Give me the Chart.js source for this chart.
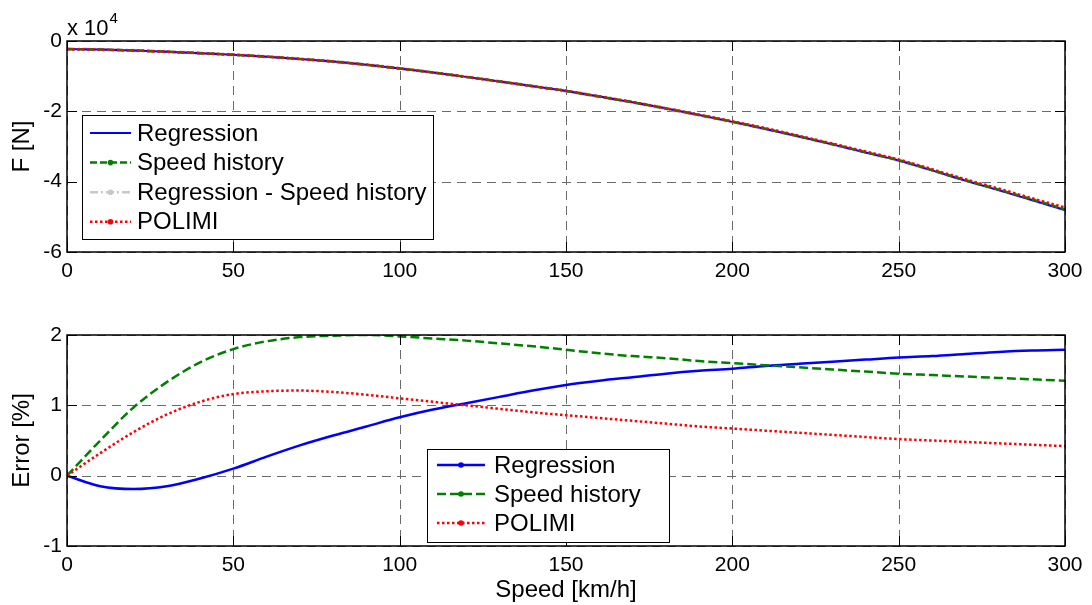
<!DOCTYPE html>
<html>
<head>
<meta charset="utf-8">
<script src="https://cdn.jsdelivr.net/npm/chart.js@4"></script>
<style>
  body { margin: 0; background: #fff; }
  #wrap { position: relative; width: 1092px; height: 605px; background: #fff; }
  #forceChart { position: absolute; left: 0; top: 0; }
  #errorChart { position: absolute; left: 0; top: 300px; }
</style>
</head>
<body>
<div id="wrap">
  <canvas id="forceChart" width="1092" height="300"></canvas>
  <canvas id="errorChart" width="1092" height="305"></canvas>
</div>
<script>
// speed in km/h
const speed = [0, 10, 20, 30, 40, 50, 60, 70, 80, 90, 100, 110, 120, 130, 140, 150,
  160, 170, 180, 190, 200, 210, 220, 230, 240, 250, 260, 270, 280, 290, 300];

// force in N (axis shown as x 10^4)
const forceRegression = [-2300, -2450, -2700, -3050, -3450, -3900, -4450, -5100, -5850, -6750, -7800,
  -8950, -10200, -11500, -12850, -14200, -15800, -17400, -19200, -21050, -23000,
  -25000, -27150, -29400, -31700, -34000, -36800, -39700, -42400, -45200, -48100];
const forceSpeedHistory = [-2300, -2450, -2700, -3050, -3450, -3900, -4450, -5100, -5850, -6750, -7800,
  -8950, -10200, -11500, -12850, -14200, -15800, -17400, -19200, -21050, -22950,
  -24950, -27100, -29300, -31600, -33900, -36700, -39550, -42250, -45000, -47900];
const forceRegSpeedHistory = [-2300, -2450, -2700, -3050, -3450, -3900, -4450, -5100, -5850, -6750, -7800,
  -8950, -10200, -11500, -12850, -14200, -15800, -17400, -19200, -21050, -22980,
  -24980, -27120, -29350, -31650, -33950, -36750, -39600, -42300, -45100, -48000];
const forcePolimi = [-2300, -2450, -2700, -3050, -3450, -3900, -4450, -5100, -5850, -6750, -7800,
  -8950, -10200, -11500, -12850, -14150, -15750, -17350, -19100, -20950, -22850,
  -24800, -26950, -29150, -31400, -33700, -36450, -39300, -41950, -44700, -47350];

// error in %
const errRegression = [0, -0.15, -0.19, -0.15, -0.04, 0.10, 0.27, 0.43, 0.57, 0.70, 0.83,
  0.94, 1.03, 1.12, 1.21, 1.29, 1.35, 1.40, 1.45, 1.49, 1.52,
  1.56, 1.59, 1.62, 1.65, 1.68, 1.70, 1.73, 1.76, 1.78, 1.79];
const errSpeedHistory = [0, 0.50, 0.97, 1.33, 1.61, 1.80, 1.91, 1.97, 1.99, 2.00, 1.98,
  1.95, 1.92, 1.88, 1.84, 1.79, 1.74, 1.70, 1.67, 1.63, 1.60,
  1.57, 1.54, 1.51, 1.48, 1.45, 1.43, 1.41, 1.39, 1.37, 1.35];
const errPolimi = [0, 0.32, 0.62, 0.87, 1.05, 1.16, 1.20, 1.21, 1.19, 1.15, 1.10,
  1.05, 1.00, 0.95, 0.90, 0.86, 0.82, 0.78, 0.74, 0.70, 0.67,
  0.64, 0.61, 0.58, 0.55, 0.52, 0.50, 0.48, 0.46, 0.44, 0.42];

const FONT = '"Liberation Sans", Arial, Helvetica, sans-serif';
Chart.defaults.font.family = FONT;
Chart.defaults.color = '#000';

function pts(values) {
  return speed.map((v, i) => ({ x: v, y: values[i] }));
}

function line(label, values, color, width, dash, order, marker) {
  return {
    label: label,
    data: pts(values),
    borderColor: color,
    backgroundColor: color,
    borderWidth: width,
    borderDash: dash,
    pointRadius: 0,
    fill: false,
    cubicInterpolationMode: 'monotone',
    order: order,
    marker: marker
  };
}

// matlab style box, dashed grid, inward ticks and boxed legend
function matlabFrame(legend, exponent) {
  return {
    id: 'matlabFrame',
    beforeDatasetsDraw(chart) {
      const { ctx, chartArea: a, scales: { x, y } } = chart;
      ctx.save();
      ctx.strokeStyle = '#6a6a6a';
      ctx.lineWidth = 1;
      ctx.setLineDash([9, 6]);
      x.ticks.forEach(t => {
        const px = Math.round(x.getPixelForValue(t.value)) + 0.5;
        ctx.beginPath(); ctx.moveTo(px, a.top); ctx.lineTo(px, a.bottom); ctx.stroke();
      });
      y.ticks.forEach(t => {
        const py = Math.round(y.getPixelForValue(t.value)) + 0.5;
        ctx.beginPath(); ctx.moveTo(a.left, py); ctx.lineTo(a.right, py); ctx.stroke();
      });
      ctx.restore();
    },
    afterDatasetsDraw(chart) {
      const { ctx, chartArea: a, scales: { x, y } } = chart;
      ctx.save();
      ctx.strokeStyle = '#000';
      ctx.lineWidth = 1.5;
      ctx.strokeRect(a.left, a.top, a.right - a.left, a.bottom - a.top);
      ctx.lineWidth = 1;
      const tl = 10;
      x.ticks.forEach(t => {
        const px = Math.round(x.getPixelForValue(t.value)) + 0.5;
        ctx.beginPath();
        ctx.moveTo(px, a.bottom); ctx.lineTo(px, a.bottom - tl);
        ctx.moveTo(px, a.top); ctx.lineTo(px, a.top + tl);
        ctx.stroke();
      });
      y.ticks.forEach(t => {
        const py = Math.round(y.getPixelForValue(t.value)) + 0.5;
        ctx.beginPath();
        ctx.moveTo(a.left, py); ctx.lineTo(a.left + tl, py);
        ctx.moveTo(a.right, py); ctx.lineTo(a.right - tl, py);
        ctx.stroke();
      });

      // legend
      const L = legend;
      ctx.fillStyle = '#fff';
      ctx.fillRect(L.x, L.y, L.w, L.h);
      ctx.strokeStyle = '#000';
      ctx.lineWidth = 1;
      ctx.strokeRect(L.x + 0.5, L.y + 0.5, L.w, L.h);
      ctx.font = '24px ' + FONT;
      ctx.textBaseline = 'middle';
      ctx.textAlign = 'left';
      chart.data.datasets.forEach((ds, i) => {
        const cy = L.y + L.first + i * L.step;
        ctx.strokeStyle = ds.borderColor;
        ctx.lineWidth = Math.min(ds.borderWidth, 2.5);
        ctx.setLineDash(ds.borderDash || []);
        ctx.beginPath(); ctx.moveTo(L.s0, cy); ctx.lineTo(L.s1, cy); ctx.stroke();
        ctx.setLineDash([]);
        if (ds.marker) {
          ctx.fillStyle = ds.borderColor;
          ctx.beginPath(); ctx.arc((L.s0 + L.s1) / 2, cy, 2.8, 0, Math.PI * 2); ctx.fill();
        }
        ctx.fillStyle = '#000';
        ctx.fillText(ds.label, L.tx, cy + 1);
      });

      if (exponent) {
        ctx.fillStyle = '#000';
        ctx.textBaseline = 'alphabetic';
        ctx.font = '22px ' + FONT;
        ctx.fillText('x 10', a.left, 35);
        const w = ctx.measureText('x 10').width;
        ctx.font = '15px ' + FONT;
        ctx.fillText('4', a.left + w + 1, 23);
      }
      ctx.restore();
    }
  };
}

function axes(yMin, yMax, yStep, yTitle, yFmt, xTitle, xHeight) {
  return {
    x: {
      type: 'linear', min: 0, max: 300,
      grid: { display: false, drawTicks: false },
      border: { display: false },
      ticks: { stepSize: 50, padding: 7, autoSkip: false, maxRotation: 0, font: { size: 21 } },
      title: xTitle ? { display: true, text: xTitle, font: { size: 24 }, padding: { top: 0, bottom: 0 } } : { display: false },
      afterFit(s) { s.height = xHeight; }
    },
    y: {
      type: 'linear', min: yMin, max: yMax,
      grid: { display: false, drawTicks: false },
      border: { display: false },
      ticks: { stepSize: yStep, padding: 5, font: { size: 21 }, callback: yFmt },
      title: { display: true, text: yTitle, font: { size: 24 }, padding: { top: 8, bottom: 0 } },
      afterFit(s) { s.width = 67; }
    }
  };
}

new Chart(document.getElementById('forceChart'), {
  type: 'line',
  data: {
    datasets: [
      line('Regression', forceRegression, '#0000ff', 2, [], 2, false),
      line('Speed history', forceSpeedHistory, '#008000', 2.5, [7, 3], 1, true),
      line('Regression - Speed history', forceRegSpeedHistory, '#c8c8c8', 3.5, [8, 3, 2, 3], 3, true),
      line('POLIMI', forcePolimi, '#ff0000', 2.5, [2.5, 2.5], 0, true)
    ]
  },
  options: {
    responsive: false,
    animation: false,
    layout: { padding: { top: 41, right: 27, left: 0, bottom: 0 } },
    plugins: { legend: { display: false }, tooltip: { enabled: false } },
    scales: axes(-60000, 0, 20000, 'F [N]', v => String(v / 10000), null, 48)
  },
  plugins: [matlabFrame({ x: 82, y: 115, w: 351, h: 124, first: 18, step: 29.6, s0: 90, s1: 131, tx: 137 }, true)]
});

new Chart(document.getElementById('errorChart'), {
  type: 'line',
  data: {
    datasets: [
      line('Regression', errRegression, '#0000ff', 2.5, [], 2, true),
      line('Speed history', errSpeedHistory, '#008000', 2.5, [9, 4], 1, true),
      line('POLIMI', errPolimi, '#ff0000', 2.5, [2.5, 2.5], 0, true)
    ]
  },
  options: {
    responsive: false,
    animation: false,
    layout: { padding: { top: 35, right: 27, left: 0, bottom: 0 } },
    plugins: { legend: { display: false }, tooltip: { enabled: false } },
    scales: axes(-1, 2, 1, 'Error [%]', v => String(v), 'Speed [km/h]', 59)
  },
  plugins: [matlabFrame({ x: 427, y: 149, w: 242, h: 93, first: 16, step: 29, s0: 437, s1: 485, tx: 494 }, false)]
});
</script>
</body>
</html>
